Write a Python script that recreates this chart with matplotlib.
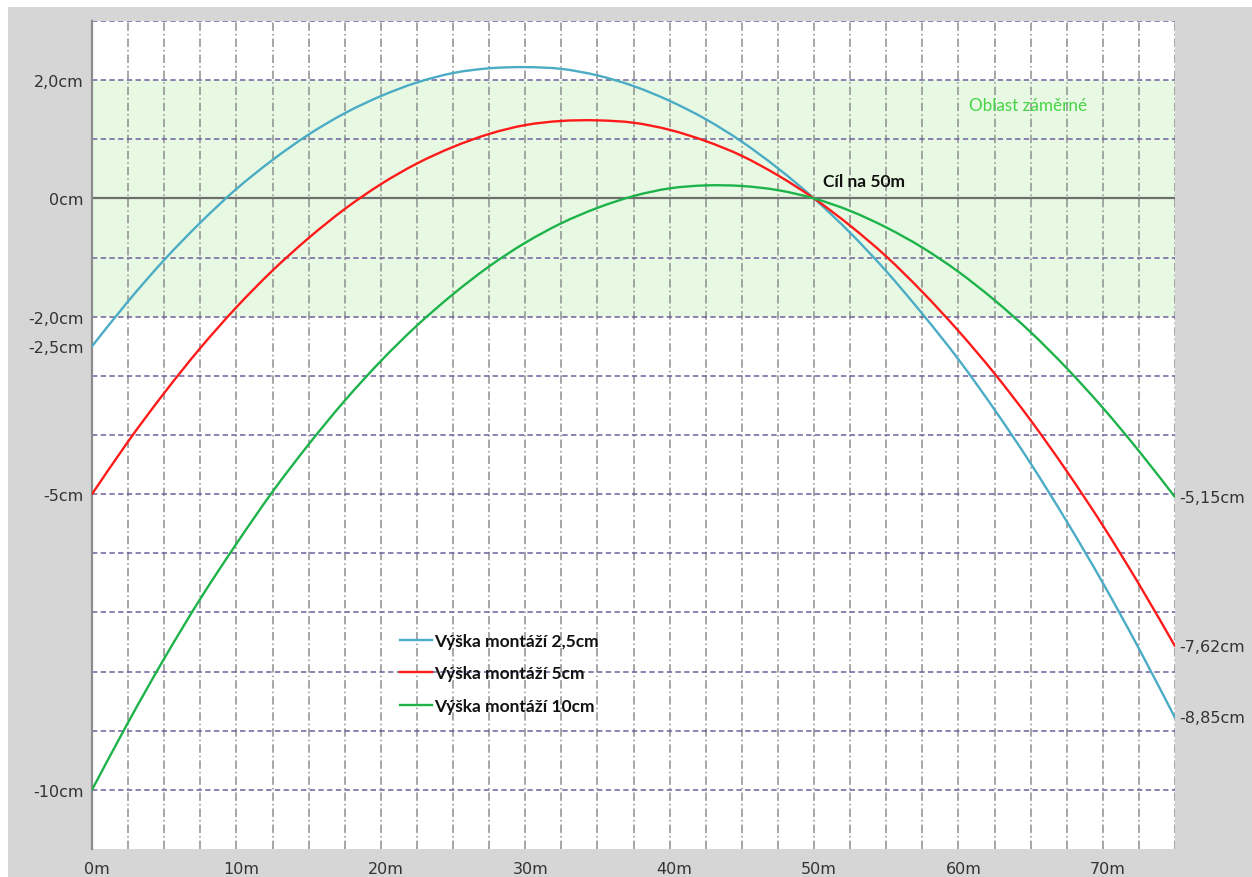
import matplotlib
matplotlib.use("Agg")
import matplotlib.pyplot as plt
import matplotlib.transforms as mtransforms
from matplotlib.patches import Rectangle, PathPatch
from matplotlib.path import Path
from matplotlib.lines import Line2D

# ---- data ----
distance_m = [0, 2.5, 5, 7.5, 10, 12.5, 15, 17.5, 20, 22.5, 25, 27.5, 30, 32.5, 35,
              37.5, 40, 42.5, 45, 47.5, 50, 52.5, 55, 57.5, 60, 62.5, 65, 67.5, 70, 72.5, 75]
h_2_5 = [-2.50, -1.74, -1.04, -0.41, 0.16, 0.65, 1.08, 1.44, 1.73, 1.96, 2.12, 2.20, 2.22,
         2.19, 2.08, 1.90, 1.65, 1.34, 0.96, 0.51, 0.00, -0.58, -1.23, -1.95, -2.72, -3.57,
         -4.48, -5.46, -6.50, -7.61, -8.78]
h_5 = [-5.00, -4.11, -3.29, -2.53, -1.84, -1.22, -0.67, -0.18, 0.24, 0.59, 0.87, 1.09, 1.24,
       1.31, 1.32, 1.28, 1.16, 0.97, 0.72, 0.39, 0.00, -0.46, -0.98, -1.58, -2.24, -2.96,
       -3.75, -4.61, -5.53, -6.52, -7.57]
h_10 = [-10.00, -8.86, -7.78, -6.77, -5.84, -4.96, -4.16, -3.42, -2.75, -2.15, -1.62, -1.15,
        -0.75, -0.42, -0.16, 0.04, 0.17, 0.22, 0.21, 0.14, 0.00, -0.21, -0.49, -0.83, -1.24,
        -1.72, -2.26, -2.87, -3.54, -4.27, -5.05]
series_labels = ["Výška montáží 2,5cm", "Výška montáží 5cm", "Výška montáží 10cm"]
series_colors = ["#4bacc6", "#ff1a1a", "#1db34a"]

x_ticks = [0, 10, 20, 30, 40, 50, 60, 70]
x_tick_labels = ["0m", "10m", "20m", "30m", "40m", "50m", "60m", "70m"]
y_ticks = [2, 0, -2, -2.5, -5, -10]
y_tick_labels = ["2,0cm", "0cm", "-2,0cm", "-2,5cm", "-5cm", "-10cm"]
end_labels = ["-8,85cm", "-7,62cm", "-5,15cm"]
zone_low, zone_high = -2, 2
target_distance = 50


def smooth_path(xs, ys):
    pts = list(zip(xs, ys))
    n = len(pts)
    verts = [pts[0]]
    codes = [Path.MOVETO]
    for i in range(n - 1):
        p0 = pts[i - 1] if i > 0 else pts[i]
        p1 = pts[i]
        p2 = pts[i + 1]
        p3 = pts[i + 2] if i + 2 < n else pts[i + 1]
        c1 = (p1[0] + (p2[0] - p0[0]) / 6, p1[1] + (p2[1] - p0[1]) / 6)
        c2 = (p2[0] - (p3[0] - p1[0]) / 6, p2[1] - (p3[1] - p1[1]) / 6)
        verts += [c1, c2, p2]
        codes += [Path.CURVE4] * 3
    return Path(verts, codes)


W, H = 1252, 878
fig = plt.figure(figsize=(W / 100, H / 100), dpi=100, facecolor="white")
fig.patches.append(Rectangle((8 / W, 0), 1 - 8 / W, 1 - 8 / H, transform=fig.transFigure,
                             facecolor="#d6d6d6", edgecolor="none", zorder=-10))

ax = fig.add_axes([92 / W, (H - 850) / H, (1175 - 92) / W, (850 - 22) / H])
ax.set_facecolor("white")
ax.set_xlim(0, 75)
ax.set_ylim(-11, 3)

# target zone
ax.axhspan(zone_low, zone_high, facecolor="#e8f9e3", edgecolor="none", zorder=0)

# grid
for xv in [i * 2.5 for i in range(1, 31)]:
    ax.axvline(xv, color="#8e8e8e", lw=1.1, ls=(0, (5.5, 2, 1, 2)), zorder=1)
for yv in range(-10, 4):
    if yv == 0:
        ax.axhline(0, color="#6e6e6e", lw=1.6, zorder=1.5)
    else:
        ax.axhline(yv, color="#6f5f9f", lw=1.1, ls=(0, (3.5, 2.2)), zorder=1.5)

# curves
handles = []
for ys, lab, col in zip([h_2_5, h_5, h_10], series_labels, series_colors):
    patch = PathPatch(smooth_path(distance_m, ys), facecolor="none", edgecolor=col,
                      lw=1.7, zorder=3, capstyle="round", joinstyle="round")
    ax.add_patch(patch)
    handles.append(Line2D([], [], color=col, lw=1.7, label=lab))

# end labels
for ys, lab in zip([h_2_5, h_5, h_10], end_labels):
    ax.annotate(lab, xy=(distance_m[-1], ys[-1]), xytext=(3, 0), textcoords="offset points",
                ha="left", va="center", fontsize=11.5, color="#333333",
                family="DejaVu Sans", annotation_clip=False)

# spines & ticks
for s in ["top", "right", "bottom"]:
    ax.spines[s].set_visible(False)
ax.spines["left"].set_color("#8c8c8c")
ax.spines["left"].set_linewidth(1.6)
ax.set_xticks(x_ticks)
ax.set_xticklabels(x_tick_labels)
ax.set_yticks(y_ticks)
ax.set_yticklabels(y_tick_labels)
ax.tick_params(axis="both", length=0, labelsize=11.5, labelcolor="#333333")
ax.tick_params(axis="x", pad=9)
ax.tick_params(axis="y", pad=6)
shift = mtransforms.ScaledTranslation(5 / 100, 0, fig.dpi_scale_trans)
for lbl in ax.get_xticklabels():
    lbl.set_transform(lbl.get_transform() + shift)

# texts
ax.text(50.6, 0.29, "Cíl na 50m", fontsize=12.5, fontweight="bold",
        family="Lato", color="#111111", ha="left", va="center", zorder=4)
ax.text(60.7, 1.58, "Oblast záměrné", fontsize=12.3, family="Lato", color="#44d444",
        ha="left", va="center", zorder=4)

leg = ax.legend(handles=handles, loc="upper left", bbox_to_anchor=(400 / W, 1 - 634 / H),
                bbox_transform=fig.transFigure, frameon=False,
                prop={"family": "Lato", "weight": "bold", "size": 12.5},
                handlelength=1.85, handletextpad=0.1, labelspacing=0.95, borderaxespad=0,
                borderpad=0)
for t in leg.get_texts():
    t.set_color("#111111")

fig.savefig("out.png", dpi=100, facecolor=fig.get_facecolor())
